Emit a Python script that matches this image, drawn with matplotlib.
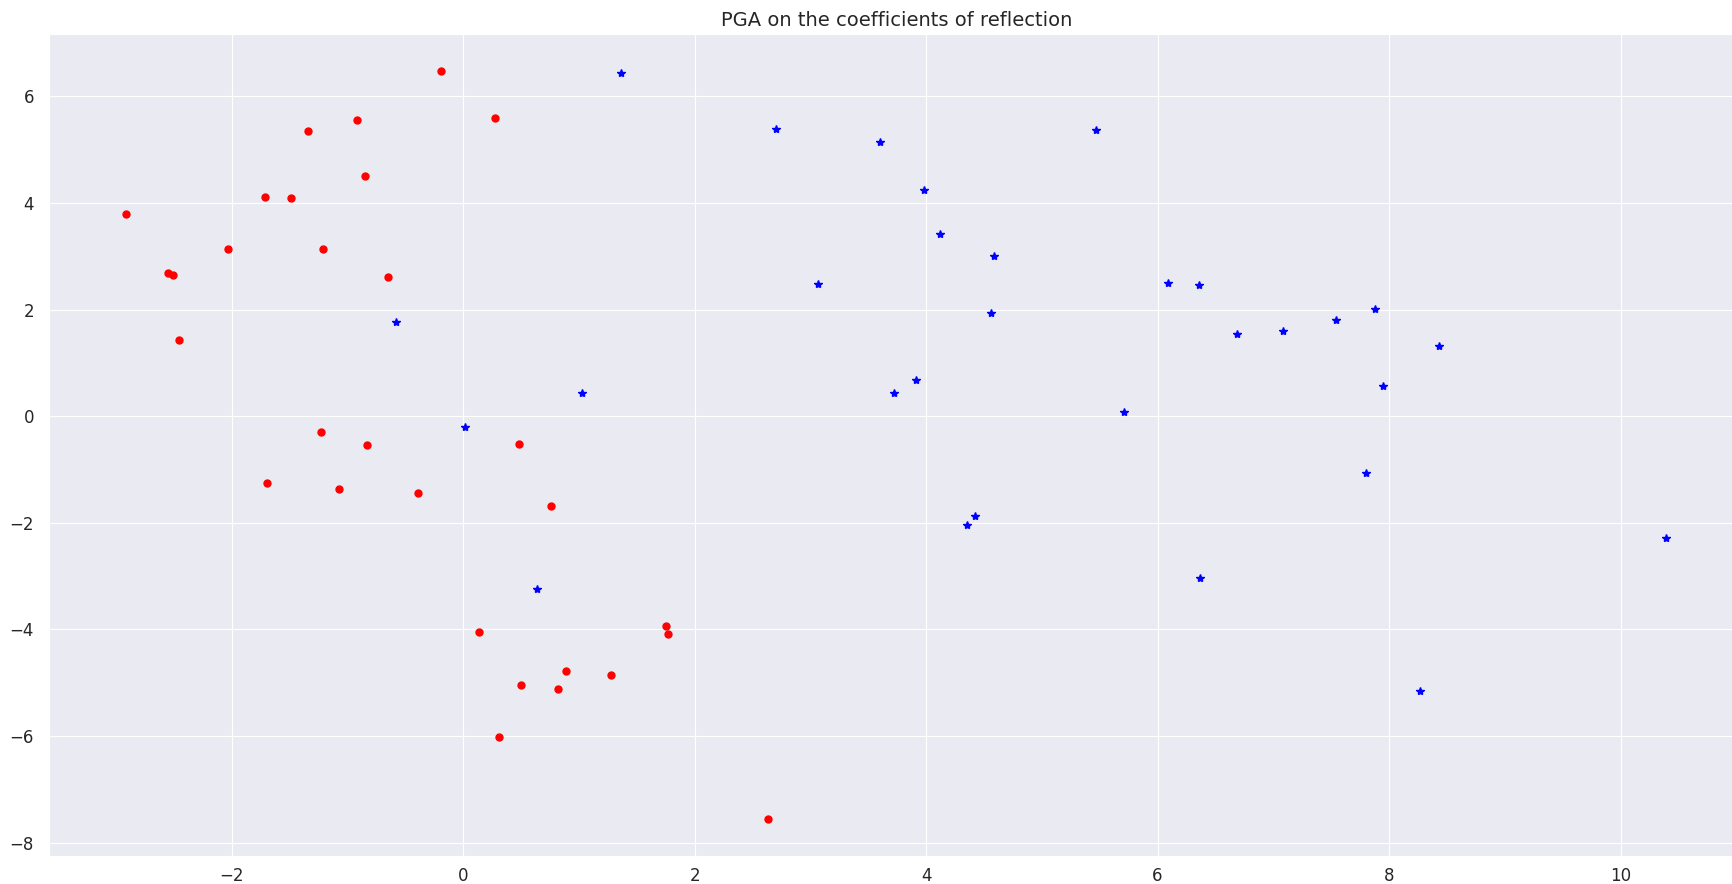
import matplotlib
matplotlib.use("Agg")
import matplotlib.pyplot as plt
import seaborn as sns

# projections of the two groups on the first two components
red_x = [-2.91, -2.55, -2.51, -2.45, -2.03, -1.71, -1.49, -1.34, -1.21, -0.92,
         -0.85, -0.65, -0.19, 0.28, -1.23, -0.83, -1.69, -1.07, -0.39, 0.48,
         0.76, 0.14, 1.75, 1.77, 0.89, 1.28, 0.50, 0.82, 0.31, 2.63]
red_y = [3.79, 2.69, 2.65, 1.42, 3.14, 4.12, 4.10, 5.35, 3.14, 5.55,
         4.51, 2.62, 6.47, 5.59, -0.30, -0.55, -1.26, -1.37, -1.45, -0.53,
         -1.69, -4.05, -3.93, -4.09, -4.79, -4.85, -5.05, -5.11, -6.01, -7.55]

blue_x = [-0.58, 0.02, 1.03, 1.36, 0.64, 2.70, 3.07, 3.60, 3.72, 3.91,
          3.98, 4.12, 4.35, 4.42, 4.56, 4.59, 5.47, 5.71, 6.09, 6.36,
          6.37, 6.69, 7.08, 7.54, 7.88, 7.80, 7.95, 8.27, 8.43, 10.39]
blue_y = [1.77, -0.21, 0.44, 6.44, -3.25, 5.39, 2.48, 5.14, 0.44, 0.67,
          4.24, 3.41, -2.04, -1.87, 1.94, 3.01, 5.36, 0.07, 2.50, 2.46,
          -3.04, 1.54, 1.59, 1.81, 2.01, -1.07, 0.56, -5.15, 1.32, -2.29]

sns.set_style("darkgrid", {"grid.linewidth": 1.5})
plt.rcParams['xtick.major.pad'] = 4.5
plt.rcParams['ytick.major.pad'] = 7

fig = plt.figure(figsize=(17.33, 8.84), dpi=100)
# axes runs a little past the right border of the figure
ax = fig.add_axes([0.0281, 0.0317, 0.9785, 0.9299])

ax.plot(red_x, red_y, 'ro', markersize=5)
ax.plot(blue_x, blue_y, 'b*', markersize=6)

ax.set_xlim(-3.58, 11.07)
ax.set_title("PGA on the coefficients of reflection", fontsize=14)
ax.tick_params(labelsize=12)

fig.savefig("out.png", dpi=100)
